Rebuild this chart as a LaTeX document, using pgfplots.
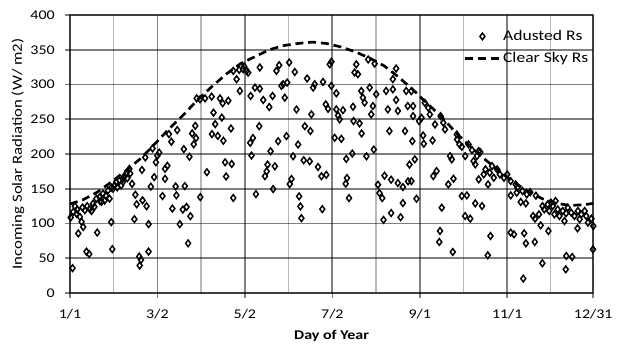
\documentclass[border=0pt]{standalone}
\usepackage{pgfplots}
\pgfplotsset{compat=1.18}
\usepackage{fontspec}
\setmainfont{Carlito}[FakeStretch=1.2]
\pgfplotsset{
  legmark/.style={legend image code/.code={\draw[##1] plot coordinates {(13pt,0pt)};}},
  legline/.style={legend image code/.code={\draw[##1] (0pt,0pt) -- (26pt,0pt);}},
}
\begin{document}
\begin{tikzpicture}
\path[use as bounding box] (-52.5pt,-39pt) rectangle (413.3pt,219.75pt);
\begin{axis}[
  scale only axis, width=392.5pt, height=208.5pt,
  xmin=1, xmax=366, ymin=0, ymax=400,
  xtick={1,62,123,184,245,306,366},
  xticklabels={1/1,3/2,5/2,7/2,9/1,11/1,12/31},
  minor xtick={31.5,92.5,153.5,214.5,275.5,336},
  ytick={0,50,...,400},
  xmajorgrids=true, ymajorgrids=true, xminorgrids=true,
  major grid style={color=black, draw opacity=0.5, line width=1.4pt},
  minor grid style={color=black, draw opacity=0.28, line width=1.1pt},
  axis line style={color=black, draw opacity=0.5, line width=1.4pt},
  tick align=outside, tick pos=left,
  major tick length=3.75pt, minor tick length=0pt,
  tick style={color=black, draw opacity=0.5, line width=1.2pt},
  /pgf/number format/assume math mode=true,
  ticklabel style={font=\fontsize{10}{12}\selectfont},
  yticklabel style={anchor=east, inner sep=0pt, xshift=-7.5pt},
  xticklabel style={anchor=north, inner sep=0pt, yshift=-8pt},
  xlabel={\bfseries Day of Year},
  ylabel={Incoming Solar Radiation (W/ m2)},
  xlabel style={at={(axis description cs:0.5,-0.169)}, anchor=base, font=\fontsize{10}{12}\selectfont},
  ylabel style={at={(axis description cs:-0.0994,0.5)}, anchor=center, font=\fontsize{10.5}{12}\selectfont},
  clip=false,
  legend style={at={(axis description cs:0.752,0.953)}, anchor=north west, draw=none, fill=none,
    font=\fontsize{11}{13}\selectfont, inner sep=0pt, row sep=4.5pt,
    nodes={inner sep=1.5pt}, cells={anchor=west}},
]
\addplot[only marks, mark=diamond, mark size=2.5pt,
  mark options={draw=black, fill=white, line width=1.1pt}, legmark]
table {
x y
2.8 35.7
6.8 85.7
12.5 59.5
14.4 56
20 87
29.8 102
30.5 63
1.5 108.6
3.3 116.7
4.5 124.8
5.6 114
7.9 109.5
9.1 102.4
10.2 95
9.7 122.9
11.4 119
14.8 121
17.1 128.6
19.4 135.7
21.7 138
24 142.9
25.2 133
27.5 147.6
28.6 135.7
29.8 151.4
32.1 154.8
33.2 159.5
35.5 162
36.7 154.8
37.8 164.3
40.1 171.4
42.4 178.6
44.3 157
46.6 141.4
47.5 127.6
51.6 133.3
54.4 124.8
45.9 106.2
55.8 99
49.3 52.4
50.5 47.6
49.6 39.5
55.8 59.5
51.2 177
53.5 195
58.6 208
59.7 166.7
60.9 188
62 197.6
63.2 202
67.3 178.6
68.9 183
67.3 164.3
57.4 153
65.5 139.5
72.4 121.4
74.7 153.3
75.2 140.5
81.1 153.8
79.7 120
82.3 123.8
85 110.5
77.6 99
83.4 71.4
70 228.6
71.7 217.6
75.8 234.3
80.4 207
84.3 196
86.2 229.5
87.3 214
88.4 240.5
88.9 222.9
91.9 138
96.5 173.8
101.1 259.5
102.3 242.9
100 228.6
104.1 226
106.9 252.4
108 219
109.2 188
113.8 185.7
109.9 167.6
113.3 236.7
114.9 136.7
6 120
13 125
16 118
18 124
22 132
23 131
26 140
31 150
34 152
38 160
39 168
41 165
43 172
89.4 280
91.7 278.7
95.2 280
99.8 282.5
105.6 280
107.5 273
111.4 276.7
114.9 319.6
117.2 307.6
119.5 290.7
121.8 322
124.2 319.6
125.3 317
119 321
122.5 326
133.4 324.5
130 295.5
133.4 294
127 283.5
135.8 277.7
140 267.6
142.3 283.5
146.9 327.8
145 319.6
153.9 331.7
157.8 318
149.7 300.4
148.5 298
152.5 302.8
150.8 281
159 264
166.4 308.6
171.7 300.4
170.6 295.5
177.5 303.7
183.3 332.7
182.2 329
183.3 298
186.8 287.3
179.4 271.4
181 265
169.4 257
133 240
128.6 223
126.7 216
146.2 218.4
152 225.7
160.1 213.6
164.8 240
168.7 233
140.9 204
127.6 197.7
156.6 196.7
164 191
168.2 189.5
174 181.3
138.8 184.7
143.9 182.3
137 168
138.2 175
176.4 168
179.8 170
155.5 164
154.3 156.7
142.7 149.5
130.7 142.3
160.8 139
161.7 124.5
162.4 107.6
177 120.6
185.6 223.3
190.3 221.8
186.8 264.2
188 255.5
191.4 263
189.1 249.8
200.7 329
201.8 314.8
199.5 317.2
204.2 290.7
205.3 281
206.5 273.9
210 295.5
214.6 286
221.5 290.7
226.2 293
212.3 269
211.1 257
198.4 268
198.8 247.4
203 244
197.9 200.6
193.7 192.9
207.8 196.7
212.9 206.4
204.4 229.5
194.2 165.4
193.3 157.2
195.6 136.5
220.4 168.8
225 163
229.7 158.2
233.2 152.4
215.8 155.8
216.9 143.7
218.8 136.5
225 115
219.7 105.2
231.6 109
228.5 323
226.2 307.6
235.5 290.7
228.5 277.7
229.7 262
222.7 264.2
223.8 233
234.7 233
233.2 129.3
209 336
213.5 330
236.8 160.6
237.8 184.7
236.6 269
239.1 290.4
240.3 268.9
240.3 254.5
239.8 218.5
241.5 192.2
239.1 161
242.7 135.6
248.5 273.6
250.9 266.5
252 256.9
246.2 252
244.5 247.3
255.6 242.5
261.4 245
262.6 235.3
247.3 226.7
247.8 214.7
253.9 219.5
259.5 254.5
266.1 197
267.3 192.2
256.7 175.4
254.4 168.2
268.5 164.4
264.9 156.3
260.3 122.7
259.1 89.2
258.6 73.4
268 59
270.8 228.1
272.7 213.8
274.3 210.4
271 221
279 213.8
281.4 205.6
284.9 197
286.1 204.2
287.2 202.7
276.7 197
282.5 189.8
283.7 185
290.8 177.8
293.8 173
289.6 170.6
286.1 163.4
292.6 156.3
296.6 165.8
295.4 182.6
299 177.8
300.8 170.6
303.7 165.8
306 170.6
308.4 161
311.9 156.3
313.1 151.5
316.6 146.7
319.6 141.9
274.3 139.5
277.8 140.4
283.7 128.9
288.4 125.1
276.6 110.7
280.2 106.9
294.3 82
292.4 54.2
308.4 140.4
312.6 144.3
315.4 130.9
319 129
308.4 86.8
310.7 84.4
317.8 85.8
319 71.4
325.2 73.4
317.2 20.7
324 110.7
325.4 106.9
328.1 113.1
329.3 97.3
334.7 89.2
330.5 42.7
330.6 125
331.8 120.3
334.2 127.5
335.3 118
337.7 125.1
338.9 113.1
341.2 120.3
342.4 110.7
344.7 118
345.9 103.5
347 114.6
348.2 122.7
350.6 115.5
352.9 110.7
355.3 118
356.5 106
357.6 113.1
360 118
361.1 110.7
362.3 101.1
364.7 106.9
366 96.3
339.7 132.3
336.5 130
355 93
365.8 62.8
347.2 53.2
351.3 51.8
346.8 34
322 145
326 140
};
\addlegendentry{Adusted Rs}
\addplot[black, line width=2pt, dash pattern=on 6pt off 3.6pt, mark=none, legline]
table {
x y
1 128
10 134
20 145
30 160
40 176
50 193
60 214
70 236
80 256
90 278
100 297
110 315
120 330
130 340
140 350
150 356
160 359
170 361
180 359
190 354
200 347
210 338
220 327
230 311
240 293
250 273
260 254
270 231
280 211
290 193
300 176
310 160
320 147
330 136
340 129
350 126
360 127
366 129
};
\addlegendentry{Clear Sky Rs}
\end{axis}
\end{tikzpicture}
\end{document}
